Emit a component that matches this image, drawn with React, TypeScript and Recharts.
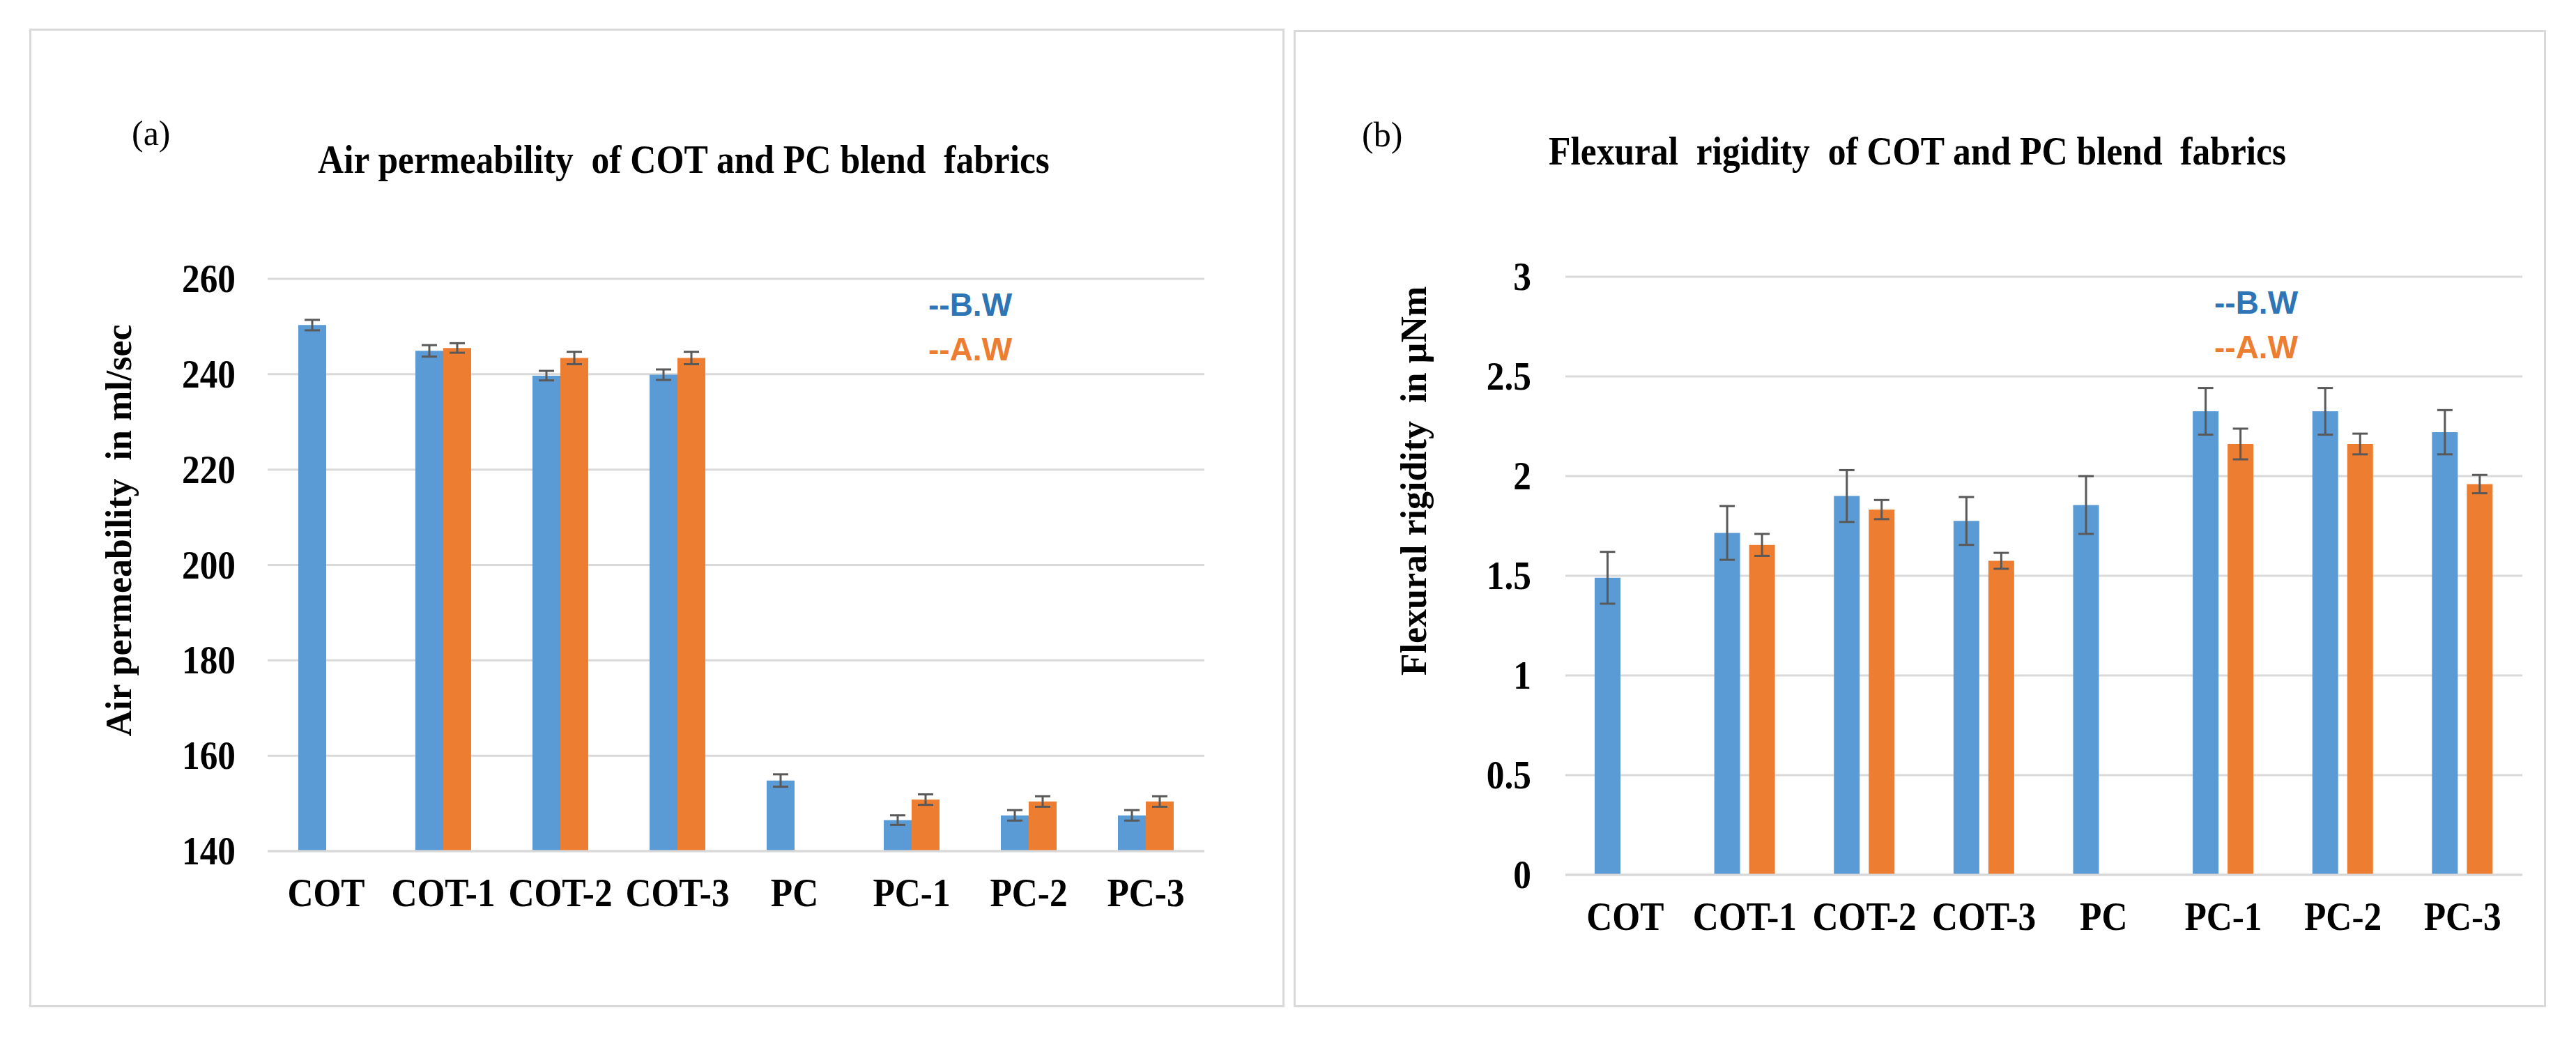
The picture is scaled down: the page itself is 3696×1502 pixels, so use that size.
import React from 'react';
import { BarChart, Bar, XAxis, YAxis, CartesianGrid, ErrorBar, Legend } from 'recharts';

const categories = ['COT', 'COT-1', 'COT-2', 'COT-3', 'PC', 'PC-1', 'PC-2', 'PC-3'];

const airBW = [250.3, 244.9, 239.7, 239.9, 154.8, 146.5, 147.5, 147.5];
const airBWErr = [1.1, 1.2, 1.0, 1.1, 1.3, 1.0, 1.1, 1.1];
const airAW = [null, 245.5, 243.4, 243.4, null, 150.8, 150.4, 150.4];
const airAWErr = [null, 1.0, 1.3, 1.3, null, 1.1, 1.1, 1.1];

const flexBW = [1.49, 1.715, 1.9, 1.775, 1.855, 2.325, 2.325, 2.22];
const flexBWErr = [0.13, 0.135, 0.13, 0.12, 0.145, 0.117, 0.117, 0.111];
const flexAW = [null, 1.655, 1.832, 1.575, null, 2.161, 2.161, 1.96];
const flexAWErr = [null, 0.055, 0.048, 0.04, null, 0.077, 0.052, 0.046];

const airTicks = [140, 160, 180, 200, 220, 240, 260];
const flexTicks = [0, 0.5, 1, 1.5, 2, 2.5, 3];

const seriesNames = ['--B.W', '--A.W'];

const airData = categories.map((c, i) => ({ name: c, bw: airBW[i], bwErr: airBWErr[i], aw: airAW[i], awErr: airAWErr[i] }));
const flexData = categories.map((c, i) => ({ name: c, bw: flexBW[i], bwErr: flexBWErr[i], aw: flexAW[i], awErr: flexAWErr[i] }));

const SERIF = "'Liberation Serif', 'Times New Roman', serif";
const SANS = "'Liberation Sans', Arial, sans-serif";
const BLUE = '#5B9BD5';
const ORANGE = '#ED7D31';
const LEG_BLUE = '#2E75B6';
const GRID = '#d9d9d9';
const ERR = '#595959';

const YTick = (p: any) => (
  <text
    transform={`translate(${p.x},${p.y + 19}) scale(0.9,1)`}
    textAnchor="end"
    fontFamily={SERIF}
    fontWeight={700}
    fontSize={57}
    fill="#000"
  >
    {p.payload.value}
  </text>
);

const XTick = (p: any) => (
  <text
    transform={`translate(${p.x},${p.y + 79}) scale(0.9,1)`}
    textAnchor="middle"
    fontFamily={SERIF}
    fontWeight={700}
    fontSize={57}
    fill="#000"
  >
    {p.payload.value}
  </text>
);

const LegendContent = () => (
  <div style={{ fontFamily: SANS, fontWeight: 700, fontSize: 46, lineHeight: '64px', whiteSpace: 'pre' }}>
    <div style={{ color: LEG_BLUE }}>{seriesNames[0]}</div>
    <div style={{ color: ORANGE }}>{seriesNames[1]}</div>
  </div>
);

function Panel(props: any) {
  const { data, ticks, domain, margin, left, barSize, barGap, tickMargin, legendPos, errWidth } = props;
  return (
    <div style={{ position: 'absolute', left, top: 0 }}>
      <BarChart width={1848} height={1502} data={data} margin={margin} barSize={barSize} barGap={barGap}>
        <CartesianGrid horizontal vertical={false} stroke={GRID} strokeWidth={3} />
        <XAxis
          dataKey="name"
          height={120}
          tickSize={0}
          tickMargin={0}
          axisLine={{ stroke: GRID, strokeWidth: 3 }}
          tickLine={false}
          tick={XTick}
          interval={0}
        />
        <YAxis
          width={200}
          domain={domain}
          ticks={ticks}
          tickSize={0}
          tickMargin={tickMargin}
          axisLine={false}
          tickLine={false}
          tick={YTick}
          interval={0}
          allowDataOverflow
        />
        <Legend
          layout="horizontal"
          verticalAlign="middle"
          align="center"
          content={LegendContent}
          wrapperStyle={{ position: 'absolute', left: legendPos[0], top: legendPos[1], width: 'auto', height: 'auto' }}
        />
        <Bar dataKey="bw" name={seriesNames[0]} fill={BLUE} isAnimationActive={false}>
          <ErrorBar dataKey="bwErr" width={errWidth} strokeWidth={3} stroke={ERR} direction="y" isAnimationActive={false} />
        </Bar>
        <Bar dataKey="aw" name={seriesNames[1]} fill={ORANGE} isAnimationActive={false}>
          <ErrorBar dataKey="awErr" width={errWidth} strokeWidth={3} stroke={ERR} direction="y" isAnimationActive={false} />
        </Bar>
      </BarChart>
    </div>
  );
}

export default function App() {
  return (
    <div style={{ position: 'absolute', left: 0, top: 0, width: 3696, height: 1502, background: '#fff', overflow: 'hidden' }}>
      <div style={{ position: 'absolute', left: 42, top: 41, width: 1801, height: 1404, border: `3px solid ${GRID}`, boxSizing: 'border-box' }} />
      <div style={{ position: 'absolute', left: 1856, top: 43, width: 1797, height: 1402, border: `3px solid ${GRID}`, boxSizing: 'border-box' }} />
      <Panel
        data={airData}
        ticks={airTicks}
        domain={[140, 260]}
        margin={{ top: 400, right: 120, bottom: 161, left: 184 }}
        left={0}
        barSize={40}
        barGap={0}
        tickMargin={46}
        legendPos={[1332, 405]}
        errWidth={11}
      />
      <Panel
        data={flexData}
        ticks={flexTicks}
        domain={[0, 3]}
        margin={{ top: 397, right: 77, bottom: 127, left: 198 }}
        left={1848}
        barSize={37}
        barGap={13}
        tickMargin={49}
        legendPos={[1329, 402]}
        errWidth={11}
      />
      <svg width={3696} height={1502} style={{ position: 'absolute', left: 0, top: 0, pointerEvents: 'none' }}>
        <text x={189} y={208} fontFamily={SERIF} fontSize={50} fill="#000">(a)</text>
        <text x={1954} y={210} fontFamily={SERIF} fontSize={50} fill="#000">(b)</text>
        <text
          transform="translate(981,248) scale(0.92,1)"
          textAnchor="middle"
          fontFamily={SERIF}
          fontWeight={700}
          fontSize={56}
          fill="#000"
          style={{ whiteSpace: 'pre' }}
        >
          {'Air permeability  of COT and PC blend  fabrics'}
        </text>
        <text
          transform="translate(2751,236) scale(0.92,1)"
          textAnchor="middle"
          fontFamily={SERIF}
          fontWeight={700}
          fontSize={56}
          fill="#000"
          style={{ whiteSpace: 'pre' }}
        >
          {'Flexural  rigidity  of COT and PC blend  fabrics'}
        </text>
        <text
          transform="translate(188,761) rotate(-90)"
          textAnchor="middle"
          fontFamily={SERIF}
          fontWeight={700}
          fontSize={52}
          fill="#000"
          style={{ whiteSpace: 'pre' }}
        >
          {'Air permeability  in ml/sec'}
        </text>
        <text
          transform="translate(2046,690) rotate(-90)"
          textAnchor="middle"
          fontFamily={SERIF}
          fontWeight={700}
          fontSize={52}
          fill="#000"
          style={{ whiteSpace: 'pre' }}
        >
          {'Flexural rigidity  in µNm'}
        </text>
      </svg>
    </div>
  );
}
